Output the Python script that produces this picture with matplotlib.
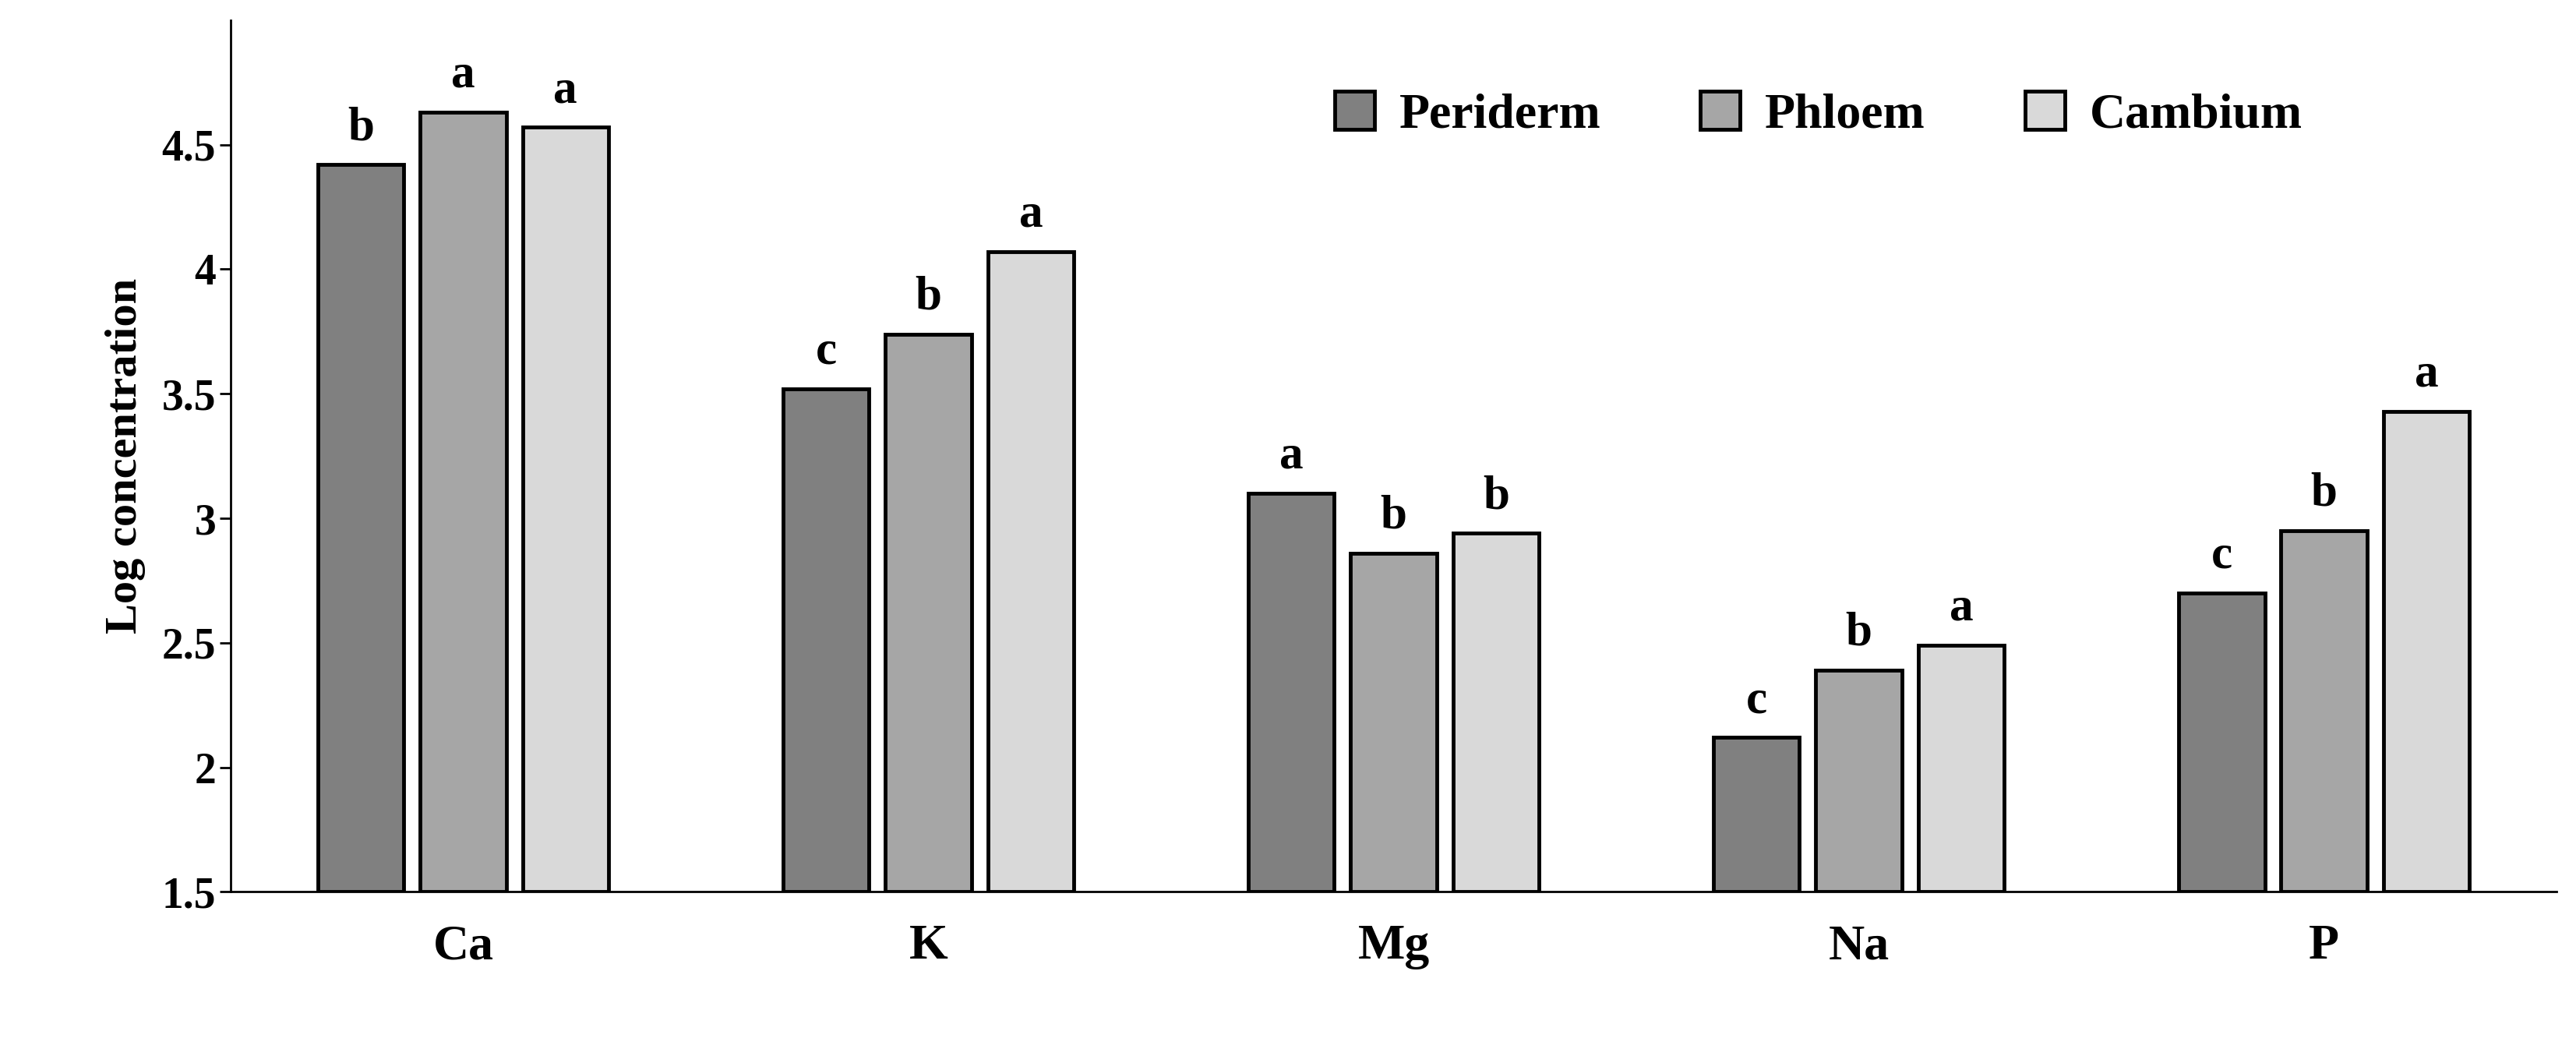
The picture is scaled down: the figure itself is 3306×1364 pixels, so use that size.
import matplotlib
matplotlib.use("Agg")
import matplotlib.pyplot as plt
import numpy as np

categories = ["Ca", "K", "Mg", "Na", "P"]
series = ["Periderm", "Phloem", "Cambium"]
periderm = [4.42, 3.52, 3.10, 2.12, 2.70]
phloem = [4.63, 3.74, 2.86, 2.39, 2.95]
cambium = [4.57, 4.07, 2.94, 2.49, 3.43]
letters_periderm = ["b", "c", "a", "c", "c"]
letters_phloem = ["a", "b", "b", "b", "b"]
letters_cambium = ["a", "a", "b", "a", "a"]

plt.rcParams['font.family'] = ['Liberation Serif', 'DejaVu Serif']
plt.rcParams['font.weight'] = 'bold'
fig = plt.figure(figsize=(33.06, 13.64), dpi=100)
ax = fig.add_axes([0.0895, 0.161, 0.903, 0.82])
colors = ["#808080", "#a6a6a6", "#d9d9d9"]
x = np.arange(len(categories))
w = 0.185
step = 0.22
for i, (vals, lets) in enumerate(zip([periderm, phloem, cambium],
                                     [letters_periderm, letters_phloem, letters_cambium])):
    pos = x + (i - 1) * step
    ax.bar(pos, np.array(vals) - 1.5, bottom=1.5, width=w, color=colors[i],
           edgecolor="black", linewidth=3.5, label=series[i])
    for p, v, l in zip(pos, vals, lets):
        ax.text(p, v + 0.06, l, ha="center", va="bottom", fontsize=44, fontweight="bold")

ax.set_ylim(1.5, 5.0)
ax.set_xlim(-0.5, 4.5)
ax.set_yticks([1.5, 2, 2.5, 3, 3.5, 4, 4.5])
ax.set_yticklabels(["1.5", "2", "2.5", "3", "3.5", "4", "4.5"])
ax.set_xticks(x)
ax.set_xticklabels(categories)
ax.tick_params(axis="y", labelsize=40, width=2, length=10)
ax.tick_params(axis="x", labelsize=46, length=0, pad=30)
for lab in ax.get_xticklabels() + ax.get_yticklabels():
    lab.set_fontweight("bold")
ax.set_ylabel("Log concentration", fontsize=42, fontweight="bold", labelpad=15)
ax.spines["top"].set_visible(False)
ax.spines["right"].set_visible(False)
ax.spines["left"].set_linewidth(2)
ax.spines["bottom"].set_linewidth(2)
ax.legend(loc="upper right", bbox_to_anchor=(0.91, 0.97), ncol=3, frameon=False,
          handlelength=0.8, handleheight=0.8, columnspacing=2.0, handletextpad=0.5,
          prop={"weight": "bold", "size": 46})
fig.savefig("out.png", dpi=100)
